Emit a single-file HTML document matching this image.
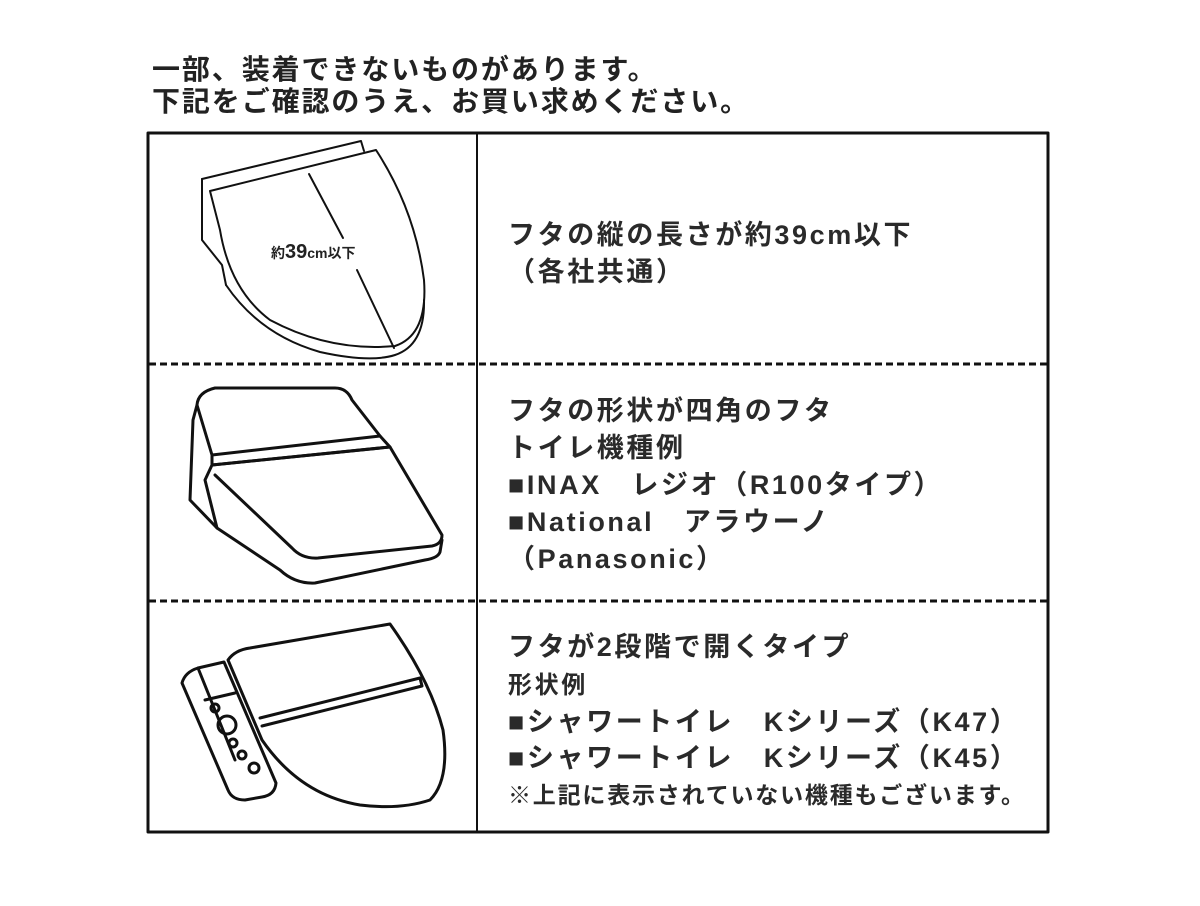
<!DOCTYPE html>
<html><head><meta charset="utf-8"><style>
body{margin:0;width:1200px;height:906px;background:#fff;position:relative;overflow:hidden;font-family:"Liberation Sans","Noto Sans CJK JP",sans-serif;font-weight:bold;color:#222}
.t{position:absolute;white-space:nowrap;font-size:28px;line-height:32px;letter-spacing:1.9px}
.r{position:absolute;left:508px;white-space:nowrap;font-size:27px;line-height:37px;letter-spacing:2.6px;color:#2a2a2a}
</style></head><body>
<div class="t" style="left:152px;top:54px">一部、装着できないものがあります。</div>
<div class="t" style="left:152px;top:86px">下記をご確認のうえ、お買い求めください。</div>
<svg width="1200" height="906" style="position:absolute;left:0;top:0" fill="none" stroke="#111" stroke-linejoin="round" stroke-linecap="round">
<rect x="148" y="133" width="900" height="699" stroke-width="3"/>
<line x1="477" y1="133" x2="477" y2="832" stroke-width="2"/>
<line x1="149" y1="364" x2="1047" y2="364" stroke-width="3" stroke-dasharray="7,4" stroke-linecap="butt"/>
<line x1="149" y1="601" x2="1047" y2="601" stroke-width="3" stroke-dasharray="7,4" stroke-linecap="butt"/>
<!-- illus 1 -->
<g stroke-width="2">
<path d="M202,179 L361,141 L364,151"/>
<path d="M202,179 L202,240 L222,265 L226,285"/>
<path d="M210,191 L376,150 Q415,210 424,280 Q428,335 395,346 Q330,352 270,320 Q230,290 220,230 Z"/>
<path d="M226,285 Q260,335 320,352 Q370,363 395,355 Q425,345 424,300"/>
<line x1="309" y1="174" x2="343" y2="238"/>
<line x1="357" y1="270" x2="394" y2="348"/>
</g>
<text x="271" y="258" fill="#222" stroke="none" font-size="14" font-family="Liberation Sans,Noto Sans CJK JP,sans-serif">約<tspan font-size="20" font-weight="bold">39</tspan>cm以下</text>
<!-- illus 2 -->
<g stroke-width="3">
<path d="M197,405 Q198,392 215,388 L335,388 Q347,388 352,400 L380,436 L212,455 Z"/>
<path d="M212,455 L212,465 L390,447 L380,436"/>
<path d="M212,465 L390,447 L442,535 Q442,544 432,546 L318,558 Q302,559 292,548 L215,475"/>
<path d="M442,540 L440,552 Q438,558 425,560 L315,583 Q295,584 280,570 L217,528 L190,500 L193,420 L197,405"/>
<path d="M212,465 L205,480 L217,528"/>
</g>
<!-- illus 3 -->
<g stroke-width="3">
<path d="M228,660 Q235,650 250,648 L390,624 Q430,680 443,730 Q450,780 430,800 Q400,810 360,805 Q300,795 262,740 L228,660 Z"/>
<path d="M260,718 L420,678 L422,686 L262,726"/>
<path d="M182,683 Q185,672 198,668 L224,662 L276,783 Q275,795 262,797 L245,800 Q232,800 228,790 Z"/>
<path d="M198,668 L235,760"/>
<path d="M205,700 L235,693"/>
<circle cx="215" cy="708" r="4"/><circle cx="227" cy="725" r="9"/><circle cx="233" cy="743" r="4"/><circle cx="242" cy="755" r="4"/><circle cx="254" cy="768" r="5"/>
</g>
</svg>
<div class="r" style="top:217px">フタの縦の長さが約39cm以下</div>
<div class="r" style="top:254px">（各社共通）</div>
<div class="r" style="top:393px">フタの形状が四角のフタ</div>
<div class="r" style="top:430px">トイレ機種例</div>
<div class="r" style="top:467px">■INAX　レジオ（R100タイプ）</div>
<div class="r" style="top:504px">■National　アラウーノ</div>
<div class="r" style="top:541px">（Panasonic）</div>
<div class="r" style="top:629px">フタが2段階で開くタイプ</div>
<div class="r" style="top:667px;font-size:24px">形状例</div>
<div class="r" style="top:704px">■シャワートイレ　Kシリーズ（K47）</div>
<div class="r" style="top:740px">■シャワートイレ　Kシリーズ（K45）</div>
<div class="r" style="top:777px;font-size:23px;letter-spacing:1.8px">※上記に表示されていない機種もございます。</div>
</body></html>
